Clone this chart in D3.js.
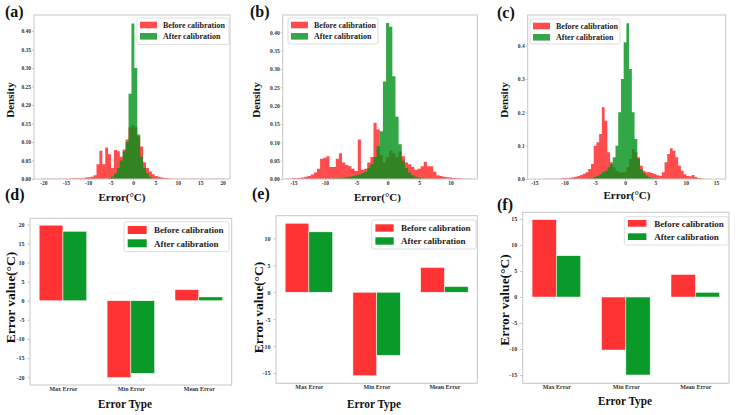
<!DOCTYPE html>
<html>
<head>
<meta charset="utf-8">
<script src="https://cdn.jsdelivr.net/npm/d3@7"></script>
<style>
body { margin: 0; background: #fff; }
text { font-family: "Liberation Serif", "Times New Roman", serif; font-weight: bold; }
</style>
</head>
<body>
<svg id="chart" width="736" height="415"></svg>
<script>
// ---------------- data ----------------
var seriesNames = ["Before calibration", "After calibration"];
var categories = ["Max Error", "Min Error", "Mean Error"];

// histogram (a): first bin edge, bin width, densities
var histA_width = 0.65;
var histA_redStart = -20.5;
var histA_red = [0.001,0.001,0.001,0.001,0.001,0.001,0.001,0.001,0.001,0.001,0.002,0.002,0.002,0.002,
  0.002,0.004,0.005,0.006,0.01,0.04,0.076,0.04,0.085,0.067,0.03,0.078,0.075,0.06,0.08,0.107,
  0.14,0.145,0.14,0.115,0.088,0.045,0.03,0.02,0.013,0.008,0.006,0.004,0.003,0.002,
  0.001,0.001,0.001,0.001,0.001,0.001,0.001,0.001,0.001,0.001,0.001,0.001,0.001,0.001,0.001,0.001,0.001,0.001,0.001];
var histA_greenStart = -5.55;
var histA_green = [0.002,0.006,0.015,0.03,0.05,0.075,0.1,0.23,0.42,0.30,0.12,0.06,0.03,0.015,0.006,0.002];

// histogram (b)
var histB_width = 0.5;
var histB_redStart = -16.25;
var histB_red = [0.001,0.001,0.002,0.002,0.003,0.004,0.006,0.008,0.012,0.018,0.028,0.055,0.058,0.062,
  0.033,0.033,0.055,0.07,0.045,0.038,0.035,0.028,0.022,0.108,0.025,0.028,0.045,0.06,0.153,0.135,
  0.065,0.045,0.06,0.078,0.07,0.06,0.075,0.062,0.045,0.04,0.033,0.025,0.028,0.035,0.047,0.035,
  0.035,0.02,0.01,0.008,0.006,0.005,0.004,0.003,0.002,0.002,0.001,0.001,0.001];
var histB_greenStart = -9.25;
var histB_green = [0.001,0.002,0.002,0.003,0.004,0.005,0.006,0.008,0.01,0.012,0.016,0.02,0.03,0.04,
  0.06,0.09,0.13,0.266,0.425,0.415,0.28,0.17,0.095,0.05,0.03,0.018,0.01,0.006,0.004,0.002,0.001];

// histogram (c)
var histC_width = 0.45;
var histC_redStart = -13.3;
var histC_red = [0.001,0.001,0.001,0.001,0.001,0.001,0.002,0.002,0.003,0.004,0.005,0.007,0.009,0.012,
  0.016,0.02,0.03,0.045,0.1,0.11,0.135,0.215,0.175,0.08,0.05,0.035,0.025,0.02,0.02,0.02,
  0.035,0.06,0.09,0.08,0.065,0.04,0.025,0.02,0.02,0.018,0.014,0.011,0.01,0.02,0.05,0.075,
  0.092,0.085,0.065,0.04,0.025,0.014,0.009,0.008,0.012,0.006,0.003,0.002,0.001];
var histC_greenStart = -6.1;
var histC_green = [0.002,0.003,0.006,0.01,0.014,0.02,0.025,0.035,0.045,0.065,0.1,0.2,0.3,0.41,
  0.467,0.33,0.2,0.12,0.06,0.03,0.018,0.01,0.005,0.003,0.002];

// bar charts (d), (e), (f)
var barD_before = [19.8, -20.1, 2.9];
var barD_after = [18.2, -19.0, 1.0];
var barE_before = [12.8, -15.5, 4.6];
var barE_after = [11.2, -11.7, 1.05];
var barF_before = [14.9, -10.2, 4.35];
var barF_after = [7.95, -15.0, 0.9];

// tick labels
var ticksA_x = [-20, -15, -10, -5, 0, 5, 10, 15, 20];
var ticksA_y = [0, 0.05, 0.10, 0.15, 0.20, 0.25, 0.30, 0.35, 0.40];
var ticksB_x = [-15, -10, -5, 0, 5, 10];
var ticksB_y = [0, 0.05, 0.10, 0.15, 0.20, 0.25, 0.30, 0.35, 0.40];
var ticksC_x = [-15, -10, -5, 0, 5, 10, 15];
var ticksC_y = [0, 0.1, 0.2, 0.3, 0.4];
var ticksD_y = [-20, -15, -10, -5, 0, 5, 10, 15, 20];
var ticksE_y = [-15, -10, -5, 0, 5, 10];
var ticksF_y = [-15, -10, -5, 0, 5, 10, 15];

// ---------------- layout ----------------
var histRed = "rgb(255,0,0)", histGreen = "rgb(0,145,25)";
var barRed = "#ff3333", barGreen = "#0a9a2a";
var frameColor = "#c6c6c6";

var svg = d3.select("#chart");

var histPanels = [
  {letter: "(a)", lx: 5, ly: 17, left: 34, right: 230, top: 15, bottom: 179,
   xDomain: [-22.1, 21.65], yDomain: [0, 0.443], xTicks: ticksA_x, yTicks: ticksA_y, yFmt: ".2f",
   w: histA_width, redStart: histA_redStart, red: histA_red, greenStart: histA_greenStart, green: histA_green,
   legend: {x: 137, y: 18, w: 92, h: 26.5}, ylab: [10, 100], xlab: [122, 200.5]},
  {letter: "(b)", lx: 250, ly: 17, left: 282.7, right: 477.3, top: 15, bottom: 179,
   xDomain: [-16.7, 14.27], yDomain: [0, 0.447], xTicks: ticksB_x, yTicks: ticksB_y, yFmt: ".2f",
   w: histB_width, redStart: histB_redStart, red: histB_red, greenStart: histB_greenStart, green: histB_green,
   legend: {x: 288, y: 18, w: 90, h: 26}, ylab: [255.5, 100], xlab: [377.5, 200.5]},
  {letter: "(c)", lx: 497, ly: 18, left: 527.7, right: 725.7, top: 15, bottom: 179,
   xDomain: [-16.1, 16.6], yDomain: [0, 0.492], xTicks: ticksC_x, yTicks: ticksC_y, yFmt: ".1f",
   w: histC_width, redStart: histC_redStart, red: histC_red, greenStart: histC_greenStart, green: histC_green,
   legend: {x: 530, y: 19, w: 90, h: 25}, ylab: [503.5, 100], xlab: [627, 199]}
];

var barPanels = [
  {letter: "(d)", lx: 5, ly: 200, left: 30, right: 231.7, top: 218.3, bottom: 385,
   yDomain: [-22.07, 21.6], yTicks: ticksD_y, before: barD_before, after: barD_after,
   legend: {x: 124, y: 221.7, w: 105, h: 30, pw: 19, ph: 8, p1: 4.3, p2: 17.6, tx: 30},
   ylab: [10, 297.5], xlab: [125, 408]},
  {letter: "(e)", lx: 252, ly: 199, left: 276, right: 477.3, top: 215.7, bottom: 383.3,
   yDomain: [-16.9, 14.2], yTicks: ticksE_y, before: barE_before, after: barE_after,
   legend: {x: 371.7, y: 220, w: 104.3, h: 29, pw: 18.3, ph: 7.4, p1: 4.3, p2: 17.3, tx: 29.3},
   ylab: [257.5, 307.5], xlab: [374, 407.5]},
  {letter: "(f)", lx: 497, ly: 210, left: 522.7, right: 729, top: 212.3, bottom: 383.3,
   yDomain: [-16.6, 16.3], yTicks: ticksF_y, before: barF_before, after: barF_after,
   legend: {x: 624.3, y: 216.7, w: 104, h: 28.3, pw: 18.4, ph: 6.7, p1: 3.3, p2: 16.6, tx: 30},
   ylab: [504, 300], xlab: [625, 405]}
];

function styleAxis(g, size) {
  g.select(".domain").remove();
  g.selectAll("line").attr("stroke", "#999").attr("stroke-width", 0.6);
  g.selectAll("text").attr("font-size", size).attr("fill", "#333");
}

function drawFrame(p) {
  svg.append("rect")
    .attr("x", p.left).attr("y", p.top)
    .attr("width", p.right - p.left).attr("height", p.bottom - p.top)
    .attr("fill", "none").attr("stroke", frameColor).attr("stroke-width", 1);
}

function panelLetter(p) {
  svg.append("text").attr("x", p.lx).attr("y", p.ly)
    .attr("font-size", 16).attr("fill", "#111").text(p.letter);
}

// draws one histogram panel (top row)
function drawHist(p, idx) {
  var x = d3.scaleLinear().domain(p.xDomain).range([p.left, p.right]);
  var y = d3.scaleLinear().domain(p.yDomain).range([p.bottom, p.top]);

  svg.append("clipPath").attr("id", "clip" + idx)
    .append("rect").attr("x", p.left).attr("y", p.top)
    .attr("width", p.right - p.left).attr("height", p.bottom - p.top);

  var plot = svg.append("g").attr("clip-path", "url(#clip" + idx + ")");

  // each histogram as one stepped area so neighbouring bins join without seams
  var area = d3.area()
    .curve(d3.curveStepAfter)
    .x(function(d) { return x(d[0]); })
    .y0(y(0))
    .y1(function(d) { return y(d[1]); });

  [[p.red, p.redStart, histRed, 0.7], [p.green, p.greenStart, histGreen, 0.8]].forEach(function(s) {
    var pts = s[0].map(function(v, i) { return [s[1] + i * p.w, v]; });
    pts.push([s[1] + s[0].length * p.w, s[0][s[0].length - 1]]);
    plot.append("path")
      .datum(pts)
      .attr("d", area)
      .attr("fill", s[2])
      .attr("fill-opacity", s[3]);
  });

  var gx = svg.append("g").attr("transform", "translate(0," + p.bottom + ")")
    .call(d3.axisBottom(x).tickValues(p.xTicks).tickSize(1).tickPadding(1)
      .tickFormat(function(d) { return String(d); }));
  styleAxis(gx, 5.5);
  var gy = svg.append("g").attr("transform", "translate(" + p.left + ",0)")
    .call(d3.axisLeft(y).tickValues(p.yTicks).tickSize(2).tickPadding(1).tickFormat(d3.format(p.yFmt)));
  styleAxis(gy, 5.5);

  drawFrame(p);

  // legend
  var L = p.legend;
  var lg = svg.append("g");
  lg.append("rect").attr("x", L.x).attr("y", L.y).attr("width", L.w).attr("height", L.h)
    .attr("rx", 2).attr("fill", "#fff").attr("fill-opacity", 0.85)
    .attr("stroke", "#d4d4d4").attr("stroke-width", 0.8);
  [[histRed, 0.7, 3.7], [histGreen, 0.8, 15]].forEach(function(s, i) {
    lg.append("rect").attr("x", L.x + 3).attr("y", L.y + s[2]).attr("width", 17).attr("height", 6.6)
      .attr("fill", s[0]).attr("fill-opacity", s[1]);
    lg.append("text").attr("x", L.x + 26).attr("y", L.y + s[2] + 6)
      .attr("font-size", 8).attr("fill", "#222").text(seriesNames[i]);
  });

  svg.append("text")
    .attr("transform", "translate(" + (p.ylab[0] + 4) + "," + p.ylab[1] + ") rotate(-90)")
    .attr("text-anchor", "middle").attr("font-size", 11).attr("fill", "#111").text("Density");
  svg.append("text").attr("x", p.xlab[0]).attr("y", p.xlab[1])
    .attr("text-anchor", "middle").attr("font-size", 11).attr("fill", "#111").text("Error(°C)");

  panelLetter(p);
}

// draws one grouped bar panel (bottom row)
function drawBars(p) {
  var x = d3.scaleLinear().domain([-0.485, 2.485]).range([p.left, p.right]);
  var y = d3.scaleLinear().domain(p.yDomain).range([p.bottom, p.top]);
  var bw = 0.35;

  [[p.before, barRed, -bw], [p.after, barGreen, 0]].forEach(function(s) {
    svg.append("g").selectAll("rect")
      .data(s[0])
      .enter().append("rect")
      .attr("x", function(d, i) { return x(i + s[2]); })
      .attr("width", x(bw) - x(0))
      .attr("y", function(d) { return y(Math.max(0, d)); })
      .attr("height", function(d) { return Math.abs(y(d) - y(0)); })
      .attr("fill", s[1])
      .attr("stroke", "#fff").attr("stroke-width", 0.5);
  });

  var gx = svg.append("g").attr("transform", "translate(0," + p.bottom + ")")
    .call(d3.axisBottom(x).tickValues([0, 1, 2]).tickSize(0).tickPadding(1.5)
      .tickFormat(function(d) { return categories[d]; }));
  styleAxis(gx, 6);
  var gy = svg.append("g").attr("transform", "translate(" + p.left + ",0)")
    .call(d3.axisLeft(y).tickValues(p.yTicks).tickSize(2.5).tickPadding(3)
      .tickFormat(function(d) { return String(d); }));
  styleAxis(gy, 6);

  drawFrame(p);

  var L = p.legend;
  var lg = svg.append("g");
  lg.append("rect").attr("x", L.x).attr("y", L.y).attr("width", L.w).attr("height", L.h)
    .attr("rx", 2).attr("fill", "#fff").attr("fill-opacity", 0.85)
    .attr("stroke", "#d4d4d4").attr("stroke-width", 0.8);
  [[barRed, L.p1], [barGreen, L.p2]].forEach(function(s, i) {
    lg.append("rect").attr("x", L.x + 3.7).attr("y", L.y + s[1]).attr("width", L.pw).attr("height", L.ph)
      .attr("fill", s[0]);
    lg.append("text").attr("x", L.x + L.tx).attr("y", L.y + s[1] + L.ph / 2 + 3.2)
      .attr("font-size", 9).attr("fill", "#222").text(seriesNames[i]);
  });

  svg.append("text")
    .attr("transform", "translate(" + (p.ylab[0] + 5) + "," + p.ylab[1] + ") rotate(-90)")
    .attr("text-anchor", "middle").attr("font-size", 13.5).attr("fill", "#111").text("Error value(°C)");
  svg.append("text").attr("x", p.xlab[0]).attr("y", p.xlab[1])
    .attr("text-anchor", "middle").attr("font-size", 13).attr("fill", "#111")
    .attr("textLength", 54).attr("lengthAdjust", "spacingAndGlyphs").text("Error Type");

  panelLetter(p);
}

histPanels.forEach(drawHist);
barPanels.forEach(drawBars);
</script>
</body>
</html>
